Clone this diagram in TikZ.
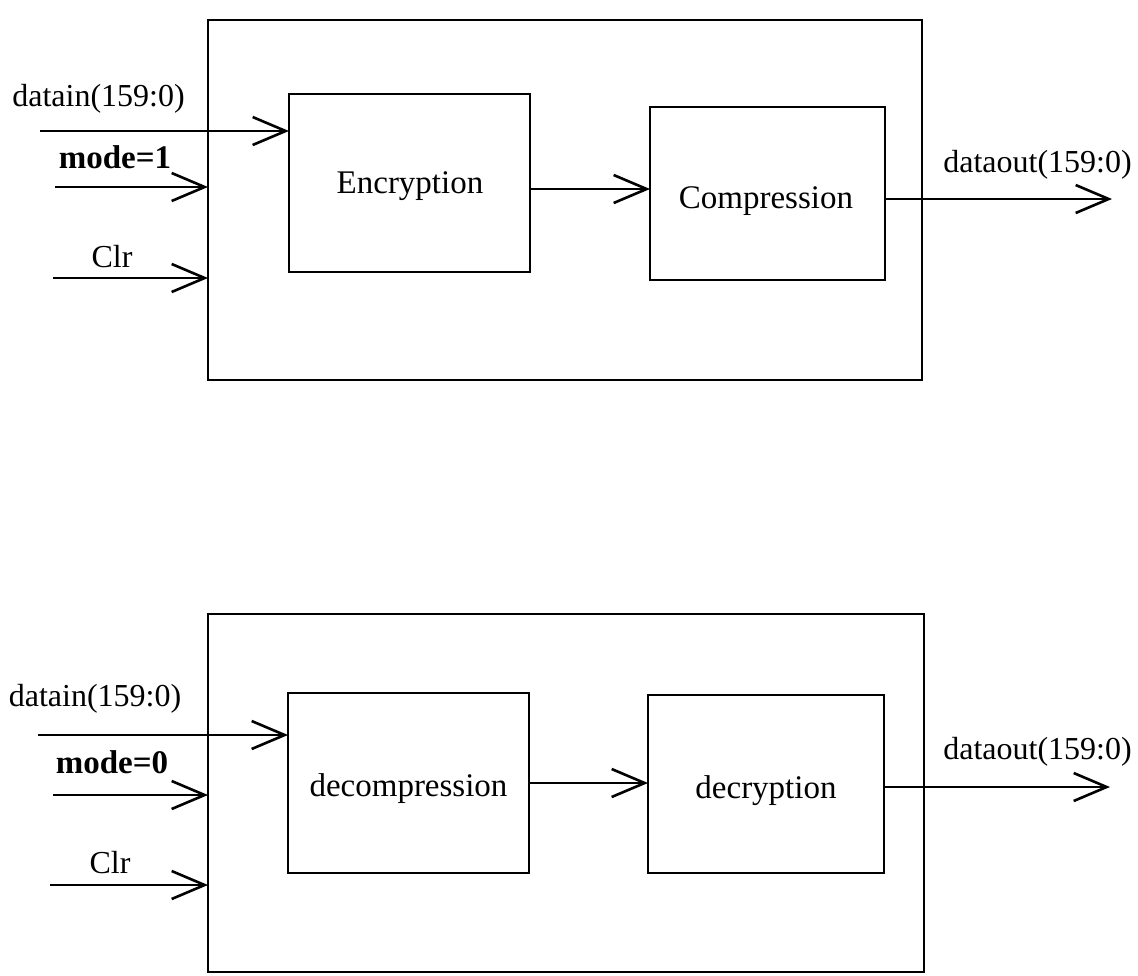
\documentclass[tikz,border=0pt]{standalone}
\usepackage{fontspec}
\setmainfont{Liberation Serif}
\usetikzlibrary{arrows.meta}
\begin{document}
\begin{tikzpicture}[x=1pt,y=-1pt,
  box/.style={draw,line width=2.6pt,inner sep=0pt,outer sep=0pt},
  txt/.style={inner sep=0pt,anchor=base,font=\fontsize{33}{35}\selectfont},
  lbl/.style={inner sep=0pt,anchor=base,font=\fontsize{32}{34}\selectfont},
  blbl/.style={inner sep=0pt,anchor=base,font=\fontsize{33}{35}\selectfont\bfseries},
  clbl/.style={inner sep=0pt,anchor=base,font=\fontsize{32}{34}\selectfont},
  conn/.style={line width=2.6pt,-{Straight Barb[length=33pt,width=28pt,line width=2.6pt]}}]
\useasboundingbox (0,0) rectangle (1138,975);
% ---------- top diagram ----------
\node[box,minimum width=714pt,minimum height=360pt] (outerA) at (565,200) {};
\node[box,minimum width=241pt,minimum height=178pt] (encA) at (409.5,183) {};
\node[box,minimum width=235pt,minimum height=173pt] (compA) at (767.5,193.5) {};
\node[txt] (tencA) at (410,193) {Encryption};
\node[txt] (tcompA) at (766,208) {Compression};
\node[lbl] (ldinA) at (98.5,106) {datain(159:0)};
\node[blbl] (lmodeA) at (115,168) {mode=1};
\node[clbl] (lclrA) at (112,267) {Clr};
\node[lbl] (loutA) at (1037.5,172) {dataout(159:0)};
\coordinate (dinA) at (40,131);
\coordinate (modeA) at (55,187);
\coordinate (clrA) at (53,278);
\coordinate (outA) at (1112,199);
\draw[conn] (dinA) -- (dinA -| encA.west);
\draw[conn] (modeA) -- (modeA -| outerA.west);
\draw[conn] (clrA) -- (clrA -| outerA.west);
\draw[conn] (encA.east |- 0,189) -- (compA.west |- 0,189);
\draw[conn] (outA -| compA.east) -- (outA);
% ---------- bottom diagram ----------
\node[box,minimum width=716pt,minimum height=358pt] (outerB) at (566,793) {};
\node[box,minimum width=241pt,minimum height=180pt] (decB) at (408.5,783) {};
\node[box,minimum width=236pt,minimum height=178pt] (decrB) at (766,784) {};
\node[txt] (tdecB) at (408.5,796) {decompression};
\node[txt] (tdecrB) at (766,798) {decryption};
\node[lbl] (ldinB) at (95,706) {datain(159:0)};
\node[blbl] (lmodeB) at (112,773) {mode=0};
\node[clbl] (lclrB) at (110,873) {Clr};
\node[lbl] (loutB) at (1037.5,759) {dataout(159:0)};
\coordinate (dinB) at (38,735);
\coordinate (modeB) at (53,795);
\coordinate (clrB) at (50,885);
\coordinate (outB) at (1110,787);
\draw[conn] (dinB) -- (dinB -| decB.west);
\draw[conn] (modeB) -- (modeB -| outerB.west);
\draw[conn] (clrB) -- (clrB -| outerB.west);
\draw[conn] (decB.east |- 0,783) -- (decrB.west |- 0,783);
\draw[conn] (outB -| decrB.east) -- (outB);
\end{tikzpicture}
\end{document}
